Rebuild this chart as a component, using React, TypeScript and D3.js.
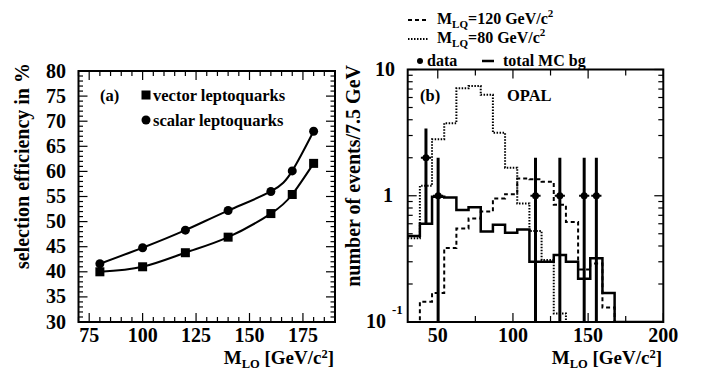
import * as d3 from 'd3'

// ── panel (a): selection efficiency vs leptoquark mass ──────────────
const massPoints = [80, 100, 120, 140, 160, 170, 180]
const vectorEff = [40.0, 41.0, 43.8, 46.9, 51.6, 55.4, 61.6]
const scalarEff = [41.6, 44.8, 48.3, 52.2, 56.0, 60.1, 68.0]
const effLabels = [30, 35, 40, 45, 50, 55, 60, 65, 70, 75, 80]
const massLabelsA = [75, 100, 125, 150, 175]

// ── panel (b): mass spectrum, 21 bins over 30–200 GeV ───────────────
const binRange = [30, 200]
const mcBg = [0.48, 0.6, 0.98, 0.97, 0.77, 0.81, 0.52, 0.59, 0.51, 0.54, 0.3, 0.3, 0.34, 0.3, 0.22, 0.32, 0.17, 0, 0, 0, 0]
const sig120 = [0, 0.145, 0.17, 0.385, 0.55, 0.66, 0.75, 0.95, 1.03, 1.37, 1.35, 1.29, 0.85, 0.62, 0.26, 0.29, 0.13, 0, 0, 0, 0]
const sig80 = [0.46, 1.2, 2.8, 3.75, 7.1, 7.4, 6.3, 3.15, 1.67, 0.87, 0.525, 0.31, 0.117, 0, 0, 0, 0, 0, 0, 0, 0]
const dataBin = [1, 2, 10, 12, 14, 15]
const dataCount = [2, 1, 1, 1, 1, 1]
const massLabelsB = [50, 100, 150, 200]

const FONT = '"Liberation Serif", "Times New Roman", serif'

export default function App() {
  const W = 701
  const H = 370

  // panel (a) scales
  const xA = d3.scaleLinear().domain([70, 190]).range([78.5, 335])
  const yA = d3.scaleLinear().domain([30, 80]).range([322, 71])

  // panel (b) scales
  const xB = d3.scaleLinear().domain(binRange).range([407.7, 663.3])
  const yB = d3.scaleLog().domain([0.1, 10]).range([322, 69.5])
  const nBins = mcBg.length
  const bw = (binRange[1] - binRange[0]) / nBins
  const edge = (i: number) => binRange[0] + i * bw

  const curve = d3
    .line<[number, number]>()
    .x((d) => xA(d[0]))
    .y((d) => yA(d[1]))
    .curve(d3.curveNatural)

  const vecPts = massPoints.map((m, i) => [m, vectorEff[i]] as [number, number])
  const scaPts = massPoints.map((m, i) => [m, scalarEff[i]] as [number, number])

  const stepPath = (vals: number[]) => {
    const cy = (v: number) => yB(Math.max(v, 0.1))
    const p = d3.path()
    p.moveTo(xB(edge(0)), cy(vals[0]))
    vals.forEach((v, i) => {
      p.lineTo(xB(edge(i)), cy(v))
      p.lineTo(xB(edge(i + 1)), cy(v))
    })
    return p.toString()
  }

  // ticks
  const aXTicks = d3.range(70, 191, 5)
  const aYTicks = d3.range(30, 81, 1)
  const bXTicks = d3.range(50, 201, 25)
  const bYTicks: number[] = []
  ;[0.1, 1].forEach((dec) => d3.range(1, 10).forEach((k) => bYTicks.push(k * dec)))
  bYTicks.push(10)

  const [aL, aR] = xA.range()
  const [aB, aT] = yA.range()
  const [bL, bR] = xB.range()
  const [bB, bT] = yB.range()

  const txt = { fontFamily: FONT, fontWeight: 700, fill: '#000' } as const

  return (
    <svg width={W} height={H} style={{ position: 'absolute', left: 0, top: 0, background: '#fff' }}>
      <defs>
        <clipPath id="clipB">
          <rect x={bL} y={bT} width={bR - bL} height={bB - bT} />
        </clipPath>
      </defs>

      {/* ── panel (a) ── */}
      <g>
        {aXTicks.map((t) => {
          const len = t % 25 === 0 ? 9 : 5
          return (
            <g key={'ax' + t} stroke="#000" strokeWidth={1.2}>
              <line x1={xA(t)} x2={xA(t)} y1={aB} y2={aB - len} />
              <line x1={xA(t)} x2={xA(t)} y1={aT} y2={aT + len} />
            </g>
          )
        })}
        {aYTicks.map((t) => {
          const len = t % 5 === 0 ? 9 : 4.5
          return (
            <g key={'ay' + t} stroke="#000" strokeWidth={1.2}>
              <line x1={aL} x2={aL + len} y1={yA(t)} y2={yA(t)} />
              <line x1={aR} x2={aR - len} y1={yA(t)} y2={yA(t)} />
            </g>
          )
        })}
        <rect x={aL} y={aT} width={aR - aL} height={aB - aT} fill="none" stroke="#000" strokeWidth={2} />

        {effLabels.map((t) => (
          <text key={'ayl' + t} x={66} y={yA(t) + 6.5} textAnchor="end" fontSize={20} {...txt}>
            {t}
          </text>
        ))}
        {massLabelsA.map((t) => (
          <text key={'axl' + t} x={xA(t)} y={342} textAnchor="middle" fontSize={20} {...txt}>
            {t}
          </text>
        ))}

        <path d={curve(vecPts) ?? ''} fill="none" stroke="#000" strokeWidth={2} />
        <path d={curve(scaPts) ?? ''} fill="none" stroke="#000" strokeWidth={2} />
        {vecPts.map((d, i) => (
          <rect key={'vs' + i} x={xA(d[0]) - 4.5} y={yA(d[1]) - 4.5} width={9} height={9} fill="#000" />
        ))}
        {scaPts.map((d, i) => (
          <circle key={'sc' + i} cx={xA(d[0])} cy={yA(d[1])} r={4.5} fill="#000" />
        ))}

        <text x={100} y={101} fontSize={16.5} {...txt}>(a)</text>
        <rect x={141.5} y={90.5} width={9} height={9} fill="#000" />
        <text x={153} y={101} fontSize={16.5} {...txt}>vector leptoquarks</text>
        <circle cx={146} cy={120} r={4.5} fill="#000" />
        <text x={153} y={126} fontSize={16.5} {...txt}>scalar leptoquarks</text>

        <text transform="translate(29,63) rotate(-90)" textAnchor="end" fontSize={20} {...txt}>
          selection efficiency in %
        </text>
        <text x={334} y={364} textAnchor="end" fontSize={19} {...txt}>
          M<tspan fontSize={12.5} dy={4}>LO</tspan>
          <tspan dy={-4}> [GeV/c</tspan>
          <tspan fontSize={12.5} dy={-6}>2</tspan>
          <tspan dy={6}>]</tspan>
        </text>
      </g>

      {/* ── panel (b) ── */}
      <g>
        <g clipPath="url(#clipB)" fill="none">
          <path d={stepPath(sig80)} stroke="#000" strokeWidth={2} strokeDasharray="1.5,1.5" />
          <path d={stepPath(sig120)} stroke="#000" strokeWidth={2} strokeDasharray="4,3" />
          <path d={stepPath(mcBg)} stroke="#000" strokeWidth={2.5} />
          {dataBin.map((b, i) => {
            const n = dataCount[i]
            const cx = xB(edge(b) + bw / 2)
            const lo = Math.max(n - Math.sqrt(n), 0.05)
            const hi = n + Math.sqrt(n)
            return (
              <g key={'d' + b}>
                <line x1={cx} x2={cx} y1={yB(lo)} y2={yB(hi)} stroke="#000" strokeWidth={3} />
                <line x1={xB(edge(b)) + 1} x2={xB(edge(b + 1)) - 1} y1={yB(n)} y2={yB(n)} stroke="#000" strokeWidth={2} />
                <circle cx={cx} cy={yB(n)} r={3.5} fill="#000" />
              </g>
            )
          })}
        </g>

        {bXTicks.map((t) => {
          const len = t % 50 === 0 ? 9 : 6
          return (
            <g key={'bx' + t} stroke="#000" strokeWidth={1.2}>
              <line x1={xB(t)} x2={xB(t)} y1={bB} y2={bB - len} />
              <line x1={xB(t)} x2={xB(t)} y1={bT} y2={bT + len} />
            </g>
          )
        })}
        {bYTicks.map((t, i) => {
          const major = Math.abs(Math.log10(t) - Math.round(Math.log10(t))) < 1e-6
          const len = major ? 9 : 5
          return (
            <g key={'by' + i} stroke="#000" strokeWidth={1.2}>
              <line x1={bL} x2={bL + len} y1={yB(t)} y2={yB(t)} />
              <line x1={bR} x2={bR - len} y1={yB(t)} y2={yB(t)} />
            </g>
          )
        })}
        <rect x={bL} y={bT} width={bR - bL} height={bB - bT} fill="none" stroke="#000" strokeWidth={2} />

        <text x={395} y={76} textAnchor="end" fontSize={20} {...txt}>10</text>
        <text x={393} y={202} textAnchor="end" fontSize={20} {...txt}>1</text>
        <text x={386} y={328} textAnchor="end" fontSize={20} {...txt}>10</text>
        <text x={392} y={314} fontSize={13} {...txt}>-1</text>

        {massLabelsB.map((t) => (
          <text key={'bxl' + t} x={xB(t)} y={342} textAnchor="middle" fontSize={20} {...txt}>
            {t}
          </text>
        ))}

        <text x={420} y={101} fontSize={16.5} {...txt}>(b)</text>
        <text x={507} y={101} fontSize={16.5} {...txt}>OPAL</text>

        <text transform="translate(360,65) rotate(-90)" textAnchor="end" fontSize={20} {...txt}>
          number of events/7.5 GeV
        </text>
        <text x={662} y={364} textAnchor="end" fontSize={19} {...txt}>
          M<tspan fontSize={12.5} dy={4}>LO</tspan>
          <tspan dy={-4}> [GeV/c</tspan>
          <tspan fontSize={12.5} dy={-6}>2</tspan>
          <tspan dy={6}>]</tspan>
        </text>

        {/* legend */}
        <line x1={408} x2={428} y1={20} y2={20} stroke="#000" strokeWidth={2} strokeDasharray="4,3" />
        <text x={437} y={24} fontSize={16} {...txt}>
          M<tspan fontSize={11} dy={4}>LQ</tspan>
          <tspan dy={-4}>=120 GeV/c</tspan>
          <tspan fontSize={11} dy={-7}>2</tspan>
        </text>
        <line x1={408} x2={428} y1={39} y2={39} stroke="#000" strokeWidth={2} strokeDasharray="1.5,1.5" />
        <text x={437} y={43} fontSize={16} {...txt}>
          M<tspan fontSize={11} dy={4}>LQ</tspan>
          <tspan dy={-4}>=80 GeV/c</tspan>
          <tspan fontSize={11} dy={-7}>2</tspan>
        </text>
        <circle cx={420} cy={61} r={3} fill="#000" />
        <text x={427} y={66} fontSize={16} {...txt}>data</text>
        <line x1={482} x2={494} y1={61} y2={61} stroke="#000" strokeWidth={2.5} />
        <text x={503} y={66} fontSize={16} {...txt}>total MC bg</text>
      </g>
    </svg>
  )
}
